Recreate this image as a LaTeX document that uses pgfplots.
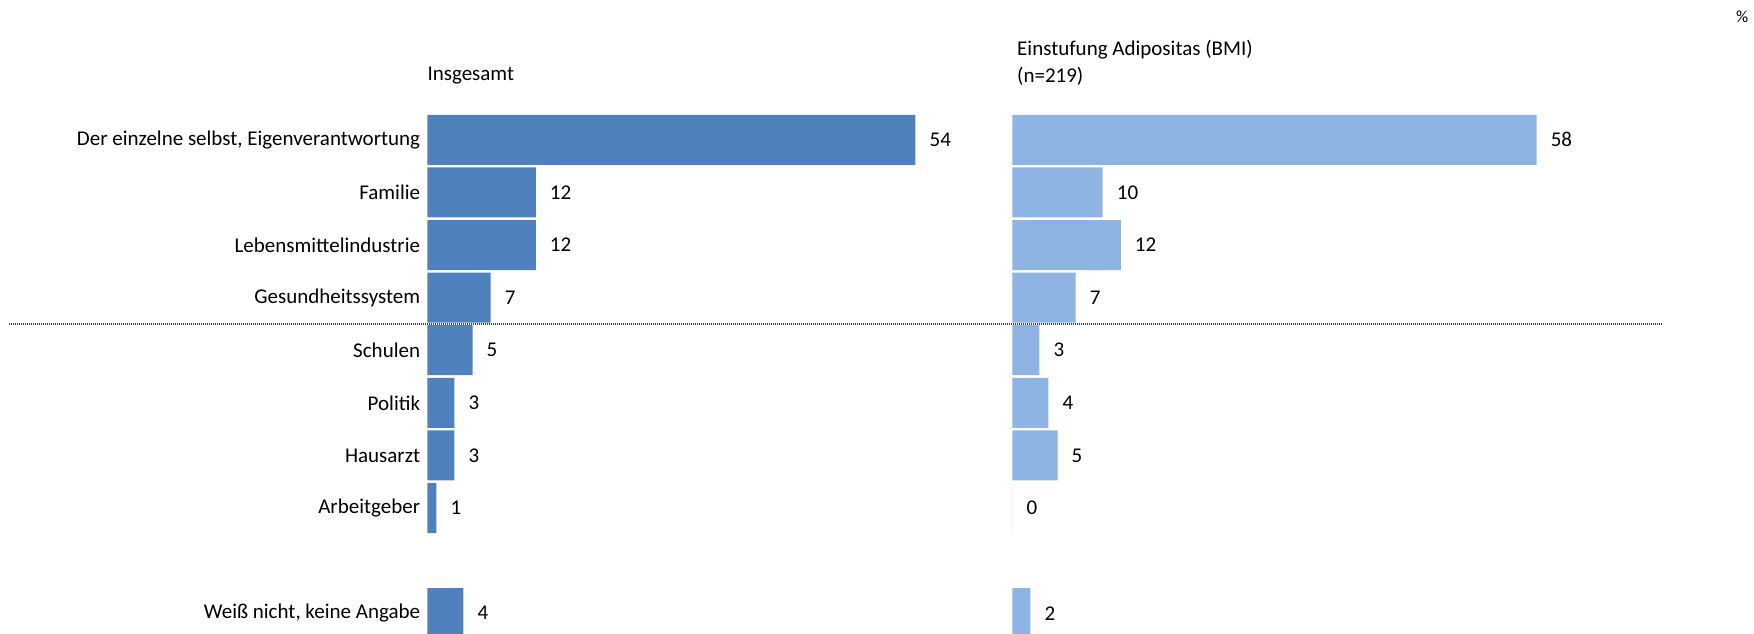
\documentclass[border=0pt]{standalone}
\usepackage{pgfplots}
\usepackage{pgfplotstable}
\usepackage{fontspec}
\setmainfont{Carlito}
\pgfplotsset{compat=1.18}

\definecolor{darkbar}{RGB}{79,129,189}
\definecolor{lightbar}{RGB}{142,180,227}

% one row per category, y = row index from the top (8 is the empty row)
\pgfplotstableread{
y total bmi
0 54 58
1 12 10
2 12 12
3 7  7
4 5  3
5 3  4
6 3  5
7 1  0
9 4  2
}\answers

\pgfplotsset{
    rowbars/.style={
        scale only axis,
        width=542.4bp, height=526bp,
        xmin=0, xmax=60,
        ymin=-0.5, ymax=9.5,
        y dir=reverse,
        xbar, bar width=50bp,
        axis line style={draw=none},
        xtick=\empty,
        major tick length=0pt,
        tick style={draw=none},
        /pgf/number format/assume math mode=true,
        point meta=x,
        nodes near coords,
        every node near coord/.append style={anchor=west, inner sep=0pt, xshift=14bp, text=black},
        clip=false
    }
}

\begin{document}
\fontsize{21bp}{25bp}\selectfont
\begin{tikzpicture}
\useasboundingbox (0,0) rectangle (1754bp,-634bp);
\clip (0,0) rectangle (1754bp,-634bp);

% separator between top answers and the rest
\draw[black!75, line width=2bp, dash pattern=on 1bp off 1bp] (9bp,-324bp) -- (1661bp,-324bp);

\begin{axis}[rowbars,
    at={(427.3bp,-113.5bp)}, anchor=north west,
    ytick={0,1,2,3,4,5,6,7,9},
    yticklabels={{Der einzelne selbst, Eigenverantwortung}, Familie, Lebensmittelindustrie,
        Gesundheitssystem, Schulen, Politik, Hausarzt, Arbeitgeber, {Weiß nicht, keine Angabe}},
    yticklabel style={anchor=east, inner sep=0pt, xshift=-7bp}
]
    \addplot[fill=darkbar, draw=none] table[x=total, y=y] {\answers};
\end{axis}

\begin{axis}[rowbars,
    at={(1012.3bp,-113.5bp)}, anchor=north west,
    ytick=\empty
]
    \addplot[fill=lightbar, draw=none] table[x=bmi, y=y] {\answers};
\end{axis}

\node[anchor=west, inner sep=0pt] at (427.3bp,-76bp) {Insgesamt};
\node[anchor=west, inner sep=0pt] at (1017bp,-50bp) {Einstufung Adipositas (BMI)};
\node[anchor=west, inner sep=0pt] at (1017bp,-76bp) {(n=219)};
\node[anchor=west, inner sep=0pt, font=\fontsize{17bp}{20bp}\selectfont] at (1736bp,-17bp) {\%};
\end{tikzpicture}
\end{document}
